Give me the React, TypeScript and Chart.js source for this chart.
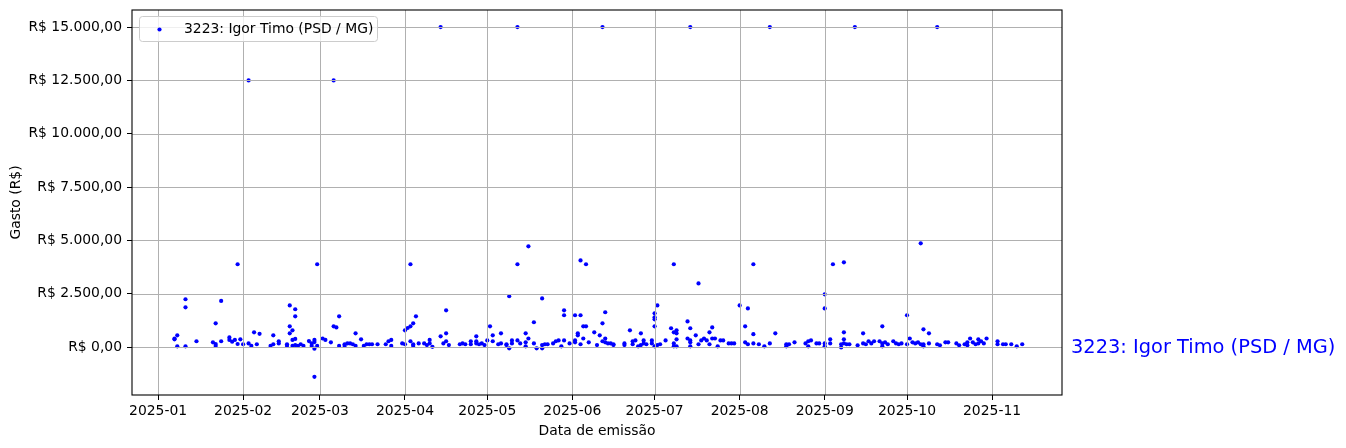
import React, { useEffect, useRef } from "react";
import { Chart, registerables } from "chart.js";

Chart.register(...registerables);

const YEAR = 2025;
const SERIES_LABEL = "3223: Igor Timo (PSD / MG)";
const X_TITLE = "Data de emissão";
const Y_TITLE = "Gasto (R$)";

const monthTickDates = ["01-01", "02-01", "03-01", "04-01", "05-01", "06-01", "07-01", "08-01", "09-01", "10-01", "11-01"];
const monthTickLabels = ["2025-01", "2025-02", "2025-03", "2025-04", "2025-05", "2025-06", "2025-07", "2025-08", "2025-09", "2025-10", "2025-11"];
const yTickValues = [0, 2500, 5000, 7500, 10000, 12500, 15000];

const emissionDates = [
  "01-07", "01-07", "01-08", "01-08", "01-11", "01-11", "01-11", "01-15", "01-21", "01-22",
  "01-22", "01-22", "01-24", "01-24", "01-27", "01-27", "01-28", "01-29", "01-30", "01-30",
  "01-31", "02-01", "02-03", "02-03", "02-04", "02-05", "02-06", "02-07", "02-11", "02-12",
  "02-12", "02-14", "02-14", "02-17", "02-17", "02-18", "02-18", "02-18", "02-19", "02-19",
  "02-19", "02-20", "02-20", "02-20", "02-20", "02-21", "02-22", "02-23", "02-25", "02-26",
  "02-26", "02-27", "02-27", "02-27", "02-27", "02-28", "02-28", "03-02", "03-03", "03-05",
  "03-06", "03-06", "03-07", "03-08", "03-08", "03-10", "03-10", "03-11", "03-12", "03-13",
  "03-14", "03-14", "03-16", "03-17", "03-18", "03-19", "03-20", "03-22", "03-25", "03-26",
  "03-27", "03-27", "03-31", "04-01", "04-01", "04-02", "04-03", "04-03", "04-03", "04-04",
  "04-04", "04-04", "04-05", "04-06", "04-08", "04-09", "04-10", "04-10", "04-11", "04-14",
  "04-14", "04-15", "04-16", "04-16", "04-16", "04-17", "04-21", "04-22", "04-23", "04-25",
  "04-25", "04-27", "04-27", "04-27", "04-28", "04-29", "04-30", "05-01", "05-02", "05-03",
  "05-03", "05-05", "05-06", "05-06", "05-08", "05-08", "05-09", "05-09", "05-10", "05-10",
  "05-12", "05-12", "05-12", "05-13", "05-15", "05-15", "05-15", "05-16", "05-16", "05-18",
  "05-18", "05-19", "05-21", "05-21", "05-21", "05-22", "05-23", "05-25", "05-26", "05-27",
  "05-28", "05-29", "05-29", "05-29", "05-31", "06-02", "06-02", "06-02", "06-03", "06-03",
  "06-04", "06-04", "06-04", "06-05", "06-05", "06-06", "06-06", "06-07", "06-09", "06-10",
  "06-11", "06-12", "06-12", "06-12", "06-13", "06-13", "06-13", "06-14", "06-15", "06-16",
  "06-16", "06-20", "06-20", "06-22", "06-23", "06-23", "06-24", "06-25", "06-26", "06-26",
  "06-27", "06-27", "06-28", "06-30", "06-30", "07-01", "07-01", "07-01", "07-01", "07-01",
  "07-02", "07-02", "07-03", "07-05", "07-07", "07-08", "07-08", "07-08", "07-08", "07-09",
  "07-09", "07-09", "07-09", "07-13", "07-13", "07-14", "07-14", "07-14", "07-14", "07-14",
  "07-16", "07-17", "07-17", "07-18", "07-19", "07-20", "07-21", "07-21", "07-22", "07-22",
  "07-23", "07-24", "07-25", "07-26", "07-28", "07-29", "07-30", "08-01", "08-03", "08-03",
  "08-04", "08-04", "08-06", "08-06", "08-06", "08-08", "08-10", "08-12", "08-12", "08-14",
  "08-18", "08-18", "08-19", "08-21", "08-25", "08-26", "08-26", "08-27", "08-29", "08-30",
  "09-01", "09-01", "09-01", "09-01", "09-03", "09-03", "09-04", "09-07", "09-07", "09-08",
  "09-08", "09-08", "09-08", "09-09", "09-10", "09-12", "09-13", "09-15", "09-15", "09-16",
  "09-17", "09-18", "09-19", "09-21", "09-22", "09-22", "09-22", "09-23", "09-24", "09-26",
  "09-27", "09-28", "09-29", "10-01", "10-01", "10-02", "10-03", "10-04", "10-05", "10-06",
  "10-06", "10-07", "10-07", "10-07", "10-09", "10-09", "10-12", "10-12", "10-13", "10-15",
  "10-16", "10-19", "10-20", "10-22", "10-23", "10-23", "10-24", "10-25", "10-26", "10-27",
  "10-27", "10-28", "10-29", "10-30", "11-03", "11-03", "11-05", "11-06", "11-08", "11-10",
  "11-12",
];

const amounts = [
  400, 360, 550, 30, 2240, 1860, 30, 270, 220, 1110,
  140, 50, 2160, 270, 450, 330, 250, 330, 3880, 140,
  360, 130, 12500, 170, 50, 690, 130, 620, 50, 130,
  550, 270, 170, 130, 50, 1950, 970, 640, 780, 330,
  50, 1770, 1440, 380, 90, 50, 130, 50, 280, 170,
  50, 230, 330, -80, -1400, 3880, 50, 400, 330, 220,
  12500, 970, 920, 1440, 50, 130, 50, 170, 170, 130,
  640, 50, 360, 50, 130, 130, 130, 130, 130, 270,
  330, 50, 170, 780, 130, 890, 3880, 970, 270, 1110,
  130, 50, 1440, 170, 170, 90, 330, 170, 10, 15000,
  500, 170, 1720, 640, 270, 90, 130, 170, 130, 270,
  130, 500, 270, 170, 130, 170, 90, 310, 970, 550,
  270, 130, 640, 170, 90, 130, 2380, -60, 310, 170,
  15000, 3880, 310, 170, 640, 30, 220, 4720, 400, 1160,
  170, -60, 2280, -60, 90, 130, 130, 170, 270, 310,
  30, 1720, 1490, 310, 170, 1490, 310, 220, 640, 550,
  4060, 1490, 130, 970, 400, 3880, 970, 220, 690, 90,
  550, 15000, 1110, 270, 1630, 400, 220, 170, 170, 130,
  90, 90, 170, 780, 130, 270, 310, 30, 640, 90,
  170, 310, 130, 170, 310, 1580, 1390, 1300, 970, 30,
  1950, 90, 130, 310, 880, 3880, 690, 170, 30, 780,
  640, 360, 30, 1200, 400, 15000, 880, 310, 220, 30,
  550, 2980, 130, 310, 400, 310, 690, 130, 920, 400,
  400, 30, 310, 310, 170, 170, 170, 1950, 970, 220,
  1810, 130, 3880, 600, 170, 130, 30, 15000, 170, 640,
  130, 30, 130, 220, 170, 270, 30, 310, 170, 170,
  2470, 1810, 170, 30, 360, 170, 3880, 130, -20, 3970,
  690, 360, 170, 130, 130, 15000, 80, 640, 170, 130,
  270, 170, 270, 270, 970, 170, 30, 220, 130, 270,
  170, 130, 170, 1490, 130, 400, 220, 170, 220, 4860,
  130, 830, 130, 30, 640, 170, 15000, 130, 80, 220,
  220, 170, 80, 130, 220, 80, 400, 220, 130, 360,
  170, 270, 170, 400, 270, 130, 130, 130, 130, 30,
  130,
];

const dayOf = (md: string) => {
  const [m, d] = md.split("-").map(Number);
  return (Date.UTC(YEAR, m - 1, d) - Date.UTC(YEAR, 0, 1)) / 86400000;
};

const formatBRL = (v: number) => {
  const neg = v < 0;
  const abs = Math.abs(v);
  const intPart = Math.floor(abs).toString().replace(/\B(?=(\d{3})+(?!\d))/g, ".");
  const dec = Math.round((abs - Math.floor(abs)) * 100).toString().padStart(2, "0");
  return `R$ ${neg ? "-" : ""}${intPart},${dec}`;
};

const FONT_FAMILY = '"DejaVu Sans", sans-serif';
const BLUE = "#0000ff";

export default function App() {
  const canvasRef = useRef<HTMLCanvasElement | null>(null);

  useEffect(() => {
    document.body.style.margin = "0";
    const canvas = canvasRef.current;
    if (!canvas) return;

    const monthDays = monthTickDates.map(dayOf);
    const points = emissionDates.map((d, i) => ({ x: dayOf(d), y: amounts[i] }));

    const overlay = {
      id: "overlay",
      afterDatasetsDraw(chart: any) {
        const { ctx, chartArea } = chart;
        const { left, right, top, bottom } = chartArea;
        const xs = chart.scales.x;
        const ys = chart.scales.y;
        ctx.save();
        ctx.beginPath();
        ctx.rect(left, top, right - left, bottom - top);
        ctx.clip();
        ctx.strokeStyle = "#b0b0b0";
        ctx.lineWidth = 1;
        ctx.beginPath();
        monthDays.forEach((v) => {
          const px = Math.round(xs.getPixelForValue(v)) + 0.5;
          ctx.moveTo(px, top);
          ctx.lineTo(px, bottom);
        });
        yTickValues.forEach((v) => {
          const py = Math.round(ys.getPixelForValue(v)) + 0.5;
          ctx.moveTo(left, py);
          ctx.lineTo(right, py);
        });
        ctx.stroke();
        ctx.restore();

        // spines
        ctx.save();
        ctx.strokeStyle = "#000";
        ctx.lineWidth = 1.1;
        ctx.strokeRect(left, top, right - left, bottom - top);
        ctx.restore();
      },
      afterDraw(chart: any) {
        const { ctx } = chart;
        const ys = chart.scales.y;
        // legend
        ctx.save();
        const lx = 139.5, ly = 16.5, lw = 238, lh = 25, r = 3;
        ctx.beginPath();
        ctx.moveTo(lx + r, ly);
        ctx.lineTo(lx + lw - r, ly);
        ctx.quadraticCurveTo(lx + lw, ly, lx + lw, ly + r);
        ctx.lineTo(lx + lw, ly + lh - r);
        ctx.quadraticCurveTo(lx + lw, ly + lh, lx + lw - r, ly + lh);
        ctx.lineTo(lx + r, ly + lh);
        ctx.quadraticCurveTo(lx, ly + lh, lx, ly + lh - r);
        ctx.lineTo(lx, ly + r);
        ctx.quadraticCurveTo(lx, ly, lx + r, ly);
        ctx.closePath();
        ctx.fillStyle = "rgba(255,255,255,0.8)";
        ctx.fill();
        ctx.strokeStyle = "#cccccc";
        ctx.lineWidth = 1;
        ctx.stroke();
        ctx.fillStyle = BLUE;
        ctx.beginPath();
        ctx.arc(159.5, 29.5, 2.1, 0, Math.PI * 2);
        ctx.fill();
        ctx.fillStyle = "#000";
        ctx.font = `13.9px ${FONT_FAMILY}`;
        ctx.textBaseline = "middle";
        ctx.textAlign = "left";
        ctx.fillText(SERIES_LABEL, 184, 29);
        // right side label
        ctx.fillStyle = BLUE;
        ctx.font = `19.4px ${FONT_FAMILY}`;
        ctx.textBaseline = "middle";
        ctx.fillText(SERIES_LABEL, 1071, ys.getPixelForValue(0) + 1);
        ctx.restore();
      },
    };

    const tickFont = { family: FONT_FAMILY, size: 13.9 };

    const chart = new Chart(canvas, {
      type: "scatter",
      data: {
        datasets: [
          {
            label: SERIES_LABEL,
            data: points,
            backgroundColor: BLUE,
            borderWidth: 0,
            pointRadius: 2.1,
            pointHoverRadius: 2.1,
          },
        ],
      },
      options: {
        animation: false,
        responsive: false,
        devicePixelRatio: 1,
        layout: { padding: { left: 0, right: 284, top: 10, bottom: 0 } },
        plugins: { legend: { display: false }, tooltip: { enabled: false } },
        scales: {
          x: {
            type: "linear",
            min: -9.5,
            max: 329.5,
            afterBuildTicks: (axis: any) => {
              axis.ticks = monthDays.map((v) => ({ value: v }));
            },
            afterFit: (axis: any) => {
              axis.height = 53;
              axis.paddingLeft = 0;
              axis.paddingRight = 0;
              axis.paddingTop = 0;
              axis.paddingBottom = 0;
            },
            ticks: {
              callback: (_v: any, i: number) => monthTickLabels[i],
              font: tickFont,
              color: "#000",
              padding: 3,
              maxRotation: 0,
              autoSkip: false,
            },
            grid: { drawOnChartArea: false, drawTicks: true, tickLength: 5, tickColor: "#000", tickWidth: 1 },
            border: { display: false },
            title: { display: true, text: X_TITLE, font: tickFont, color: "#000", padding: { top: 0, bottom: 8 } },
          },
          y: {
            type: "linear",
            min: -2250,
            max: 15800,
            afterBuildTicks: (axis: any) => {
              axis.ticks = yTickValues.map((v) => ({ value: v }));
            },
            afterFit: (axis: any) => {
              axis.width = 132;
              axis.paddingLeft = 0;
              axis.paddingRight = 0;
              axis.paddingTop = 0;
              axis.paddingBottom = 0;
            },
            ticks: {
              callback: (v: any) => formatBRL(Number(v)),
              font: tickFont,
              color: "#000",
              padding: 5,
              autoSkip: false,
            },
            grid: { drawOnChartArea: false, drawTicks: true, tickLength: 5, tickColor: "#000", tickWidth: 1 },
            border: { display: false },
            title: { display: true, text: Y_TITLE, font: tickFont, color: "#000", padding: { top: 8, bottom: 0 } },
          },
        },
      },
      plugins: [overlay],
    } as any);

    return () => chart.destroy();
  }, []);

  return (
    <div style={{ width: 1346, height: 448, position: "relative" }}>
      <canvas ref={canvasRef} width={1346} height={448} style={{ display: "block" }} />
    </div>
  );
}
